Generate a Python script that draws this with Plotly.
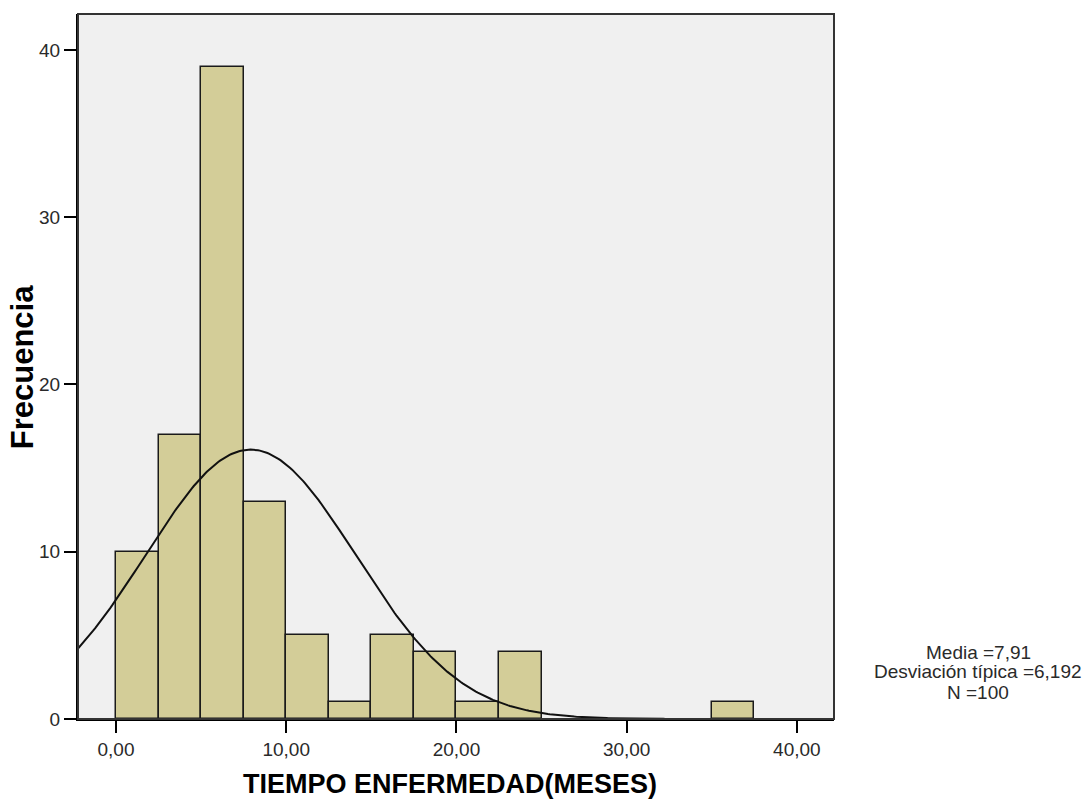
import numpy as np
import plotly.graph_objects as go

bin_starts = [0, 2.5, 5, 7.5, 10, 12.5, 15, 17.5, 20, 22.5, 35]
counts = [10, 17, 39, 13, 5, 1, 5, 4, 1, 4, 1]
bin_width = 2.5
mean = 7.91
sd = 6.192
n = 100
x_ticks = [0, 10, 20, 30, 40]
x_ticklabels = ["0,00", "10,00", "20,00", "30,00", "40,00"]
y_ticks = [0, 10, 20, 30, 40]
stats_lines = ["Media =7,91", "Desviación típica =6,192", "N =100"]

x_range = [-2.23, 42.18]
y_range = [0, 42.15]

centers = [s + bin_width / 2 for s in bin_starts]
xc = np.linspace(x_range[0], x_range[1], 400)
yc = n * bin_width / (sd * np.sqrt(2 * np.pi)) * np.exp(-0.5 * ((xc - mean) / sd) ** 2)

fig = go.Figure()
fig.add_trace(go.Bar(
    x=centers, y=counts, width=bin_width,
    marker=dict(color="#d3cd98", line=dict(color="#1a1a1a", width=1.5)),
    showlegend=False, hoverinfo="x+y",
))
fig.add_trace(go.Scatter(
    x=xc, y=yc, mode="lines", line=dict(color="#111111", width=2),
    showlegend=False, hoverinfo="skip",
))

FONT = "Liberation Sans, Arial, sans-serif"
axis_font = dict(family=FONT, size=19, color="#2a2a2a")

annotations = [
    dict(text="<b>TIEMPO ENFERMEDAD(MESES)</b>", xref="paper", yref="paper",
         x=0.492, y=-0.0922, xanchor="center", yanchor="middle", showarrow=False,
         font=dict(family=FONT, size=27, color="black")),
    dict(text="<b>Frecuencia</b>", xref="paper", yref="paper", textangle=-90,
         x=-0.074, y=0.499, xanchor="center", yanchor="middle", showarrow=False,
         font=dict(family=FONT, size=31, color="black")),
]
for line, yy in zip(stats_lines, [0.0943, 0.0667, 0.0369]):
    annotations.append(dict(
        text=line, xref="paper", yref="paper", x=1.1905, y=yy,
        xanchor="center", yanchor="middle", showarrow=False,
        font=dict(family=FONT, size=19, color="#2a2a2a"),
    ))

fig.update_layout(
    width=1086, height=799,
    margin=dict(l=78, r=252, t=14, b=80),
    paper_bgcolor="white",
    plot_bgcolor="#f0f0f0",
    bargap=0,
    xaxis=dict(
        range=x_range, tickvals=x_ticks, ticktext=x_ticklabels,
        ticks="outside", ticklen=12, tickwidth=2, tickcolor="black",
        showgrid=False, zeroline=False, showline=True, linecolor="black", linewidth=2,
        tickfont=axis_font,
    ),
    yaxis=dict(
        range=y_range, tickvals=y_ticks,
        ticks="outside", ticklen=12, tickwidth=2, tickcolor="black",
        showgrid=False, zeroline=False, showline=True, linecolor="black", linewidth=2,
        tickfont=axis_font,
    ),
    shapes=[dict(type="rect", xref="paper", yref="paper", x0=0, x1=1, y0=0, y1=1,
                 line=dict(color="#333333", width=2), fillcolor="rgba(0,0,0,0)", layer="above")],
    annotations=annotations,
)

fig.write_html("out.html")
